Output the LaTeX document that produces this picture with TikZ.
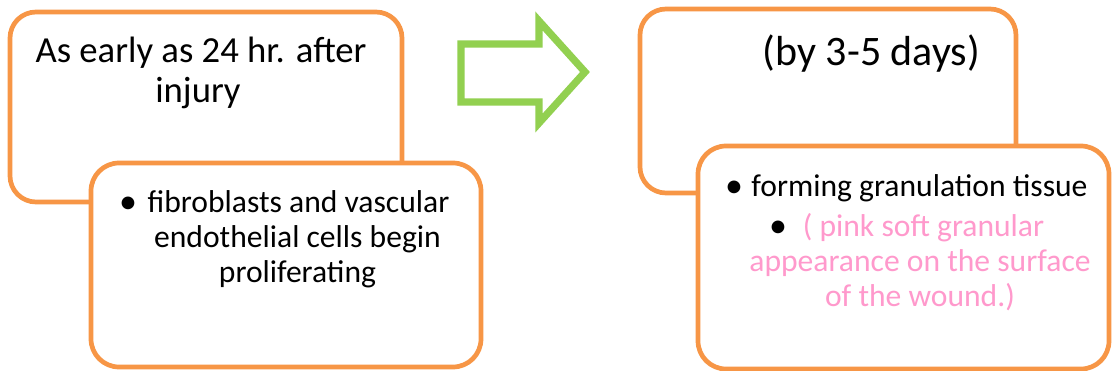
\documentclass[tikz,border=0pt]{standalone}
\usepackage{fontspec}
\setmainfont{Carlito}
\definecolor{boxorange}{HTML}{F79646}
\definecolor{arrowgreen}{HTML}{92D050}
\definecolor{pinktxt}{HTML}{FF99CC}
\begin{document}
\begin{tikzpicture}[x=1pt,y=-1pt,
  box/.style={draw=boxorange,line width=4.7pt,rounded corners=26pt,fill=white},
  big/.style={anchor=base,inner sep=0pt,font=\fontsize{36.7}{40}\selectfont},
  small/.style={anchor=base,inner sep=0pt,font=\fontsize{31.6}{35}\selectfont},
  blt/.style={anchor=base,inner sep=0pt,font=\fontsize{36}{35}\selectfont}
]
\useasboundingbox (0,0) rectangle (1112,371);
% left boxes
\draw[box] (10,12) rectangle (402,202);
\node[big] (t1a) at (201,63) {As early as 24 hr. after};
\node[big] (t1b) at (198,103) {injury};
\draw[box,rounded corners=28pt] (91,163) rectangle (481,367);
\node[small] (s1a) at (298.5,213) {fibroblasts and vascular};
\node[blt] (b1) at (128,214) {•};
\node[small] (s1b) at (297.5,248) {endothelial cells begin};
\node[small] (s1c) at (297.5,283) {proliferating};
% arrow
\draw[draw=arrowgreen,line width=7.3pt,fill=white,miter limit=10]
  (461,44) -- (539,44) -- (539,21) -- (585,72) -- (539,123) -- (539,102) -- (461,102) -- cycle;
% right boxes
\draw[box] (640,9) rectangle (1016,193);
\node[big,font=\fontsize{42}{46}\selectfont] (t2) at (871.5,66) {(by 3-5 days)};
\draw[box,rounded corners=28pt] (698,146) rectangle (1109,369);
\node[small] (s2a) at (919.5,197) {forming granulation tissue};
\node[blt] (b2) at (734,198) {•};
\node[small,text=pinktxt] (s2b) at (923.5,237) {( pink soft granular};
\node[blt] (b3) at (778,238) {•};
\node[small,text=pinktxt] (s2c) at (920,272) {appearance on the surface};
\node[small,text=pinktxt] (s2d) at (920,307) {of the wound.)};
\end{tikzpicture}
\end{document}
